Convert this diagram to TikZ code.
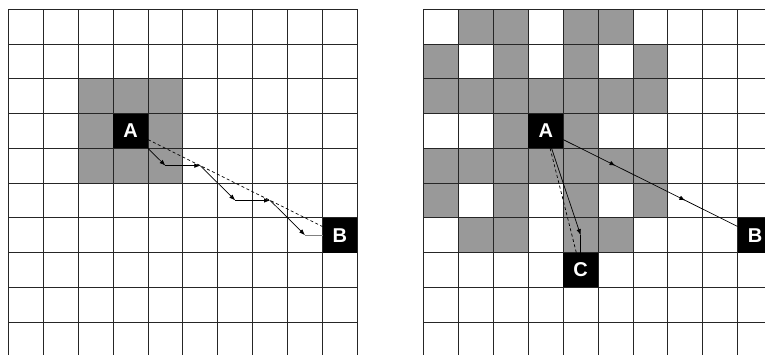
\documentclass[tikz,border=0pt]{standalone}
\usepackage{fontspec}
\setmainfont{Liberation Sans}
\usetikzlibrary{arrows.meta,decorations.markings}
\definecolor{cellgray}{RGB}{153,153,153}
\begin{document}
\begin{tikzpicture}[x=1pt,y=-1pt,
  gridline/.style={line width=1pt, draw=black!85},
  blk/.style={fill=black, text=white, font=\fontsize{20}{24}\selectfont\bfseries,
    minimum width=34.9pt, minimum height=34.75pt, inner sep=0pt, outer sep=0pt},
  tipstyle/.style={-{Latex[length=6pt,width=4.5pt]}, line width=0.7pt},
  dsh/.style={dash pattern=on 3pt off 2.5pt, line width=0.7pt},
  plain/.style={line width=0.7pt},
  midarrows/.style={line width=0.7pt, postaction={decorate},
    decoration={markings,
      mark=at position 0.3 with {\arrow{Latex[length=6pt,width=4.5pt]}},
      mark=at position 0.7 with {\arrow{Latex[length=6pt,width=4.5pt]}}}}
]
\useasboundingbox (0,0) rectangle (765,354);
\clip (0,0) rectangle (765,354);

% ---------- left grid ----------
\begin{scope}[shift={(8.4pt,-9.3pt)}, x=34.9pt, y=-34.75pt]
  \fill[cellgray] (2,2) rectangle (5,5);
  \foreach \i in {0,...,10} {
    \draw[gridline] (\i,0) -- (\i,10);
    \draw[gridline] (0,\i) -- (10,\i);
  }
  \node[blk] (A1) at (3.5,3.5) {A};
  \node[blk] (B1) at (9.5,6.5) {B};
  \coordinate (p1) at (4.5,4.5);
  \coordinate (p2) at (5.5,4.5);
  \coordinate (p3) at (6.5,5.5);
  \coordinate (p4) at (7.5,5.5);
  \coordinate (p5) at (8.5,6.5);
  \draw[dsh] (A1) -- (B1);
  \draw[tipstyle] (A1.south east) -- (p1);
  \draw[tipstyle] (p1) -- (p2);
  \draw[tipstyle] (p2) -- (p3);
  \draw[tipstyle] (p3) -- (p4);
  \draw[tipstyle] (p4) -- (p5);
  \draw[plain, draw=black!50] (p5) -- (B1.west);
\end{scope}

% ---------- right grid ----------
\begin{scope}[shift={(423.6pt,-9.3pt)}, x=34.9pt, y=-34.75pt]
  \foreach \c/\r in {1/0,2/0,4/0,5/0,
                     0/1,2/1,4/1,6/1,
                     0/2,1/2,2/2,3/2,4/2,5/2,6/2,
                     2/3,4/3,
                     0/4,1/4,2/4,3/4,4/4,5/4,6/4,
                     0/5,2/5,4/5,6/5,
                     1/6,2/6,4/6,5/6}
    \fill[cellgray] (\c,\r) rectangle ++(1,1);
  \foreach \i in {0,...,10} {
    \draw[gridline] (\i,0) -- (\i,10);
    \draw[gridline] (0,\i) -- (10,\i);
  }
  \node[blk] (A2) at (3.5,3.5) {A};
  \node[blk] (B2) at (9.5,6.5) {B};
  \node[blk] (C2) at (4.5,7.5) {C};
  \coordinate (q1) at (4.5,6.5);
  \draw[midarrows] (A2) -- (B2);
  \draw[dsh] (A2) -- (C2);
  \draw[tipstyle] (A2) -- (q1);
  \draw[plain] (q1) -- (C2.north);
\end{scope}
\end{tikzpicture}
\end{document}
